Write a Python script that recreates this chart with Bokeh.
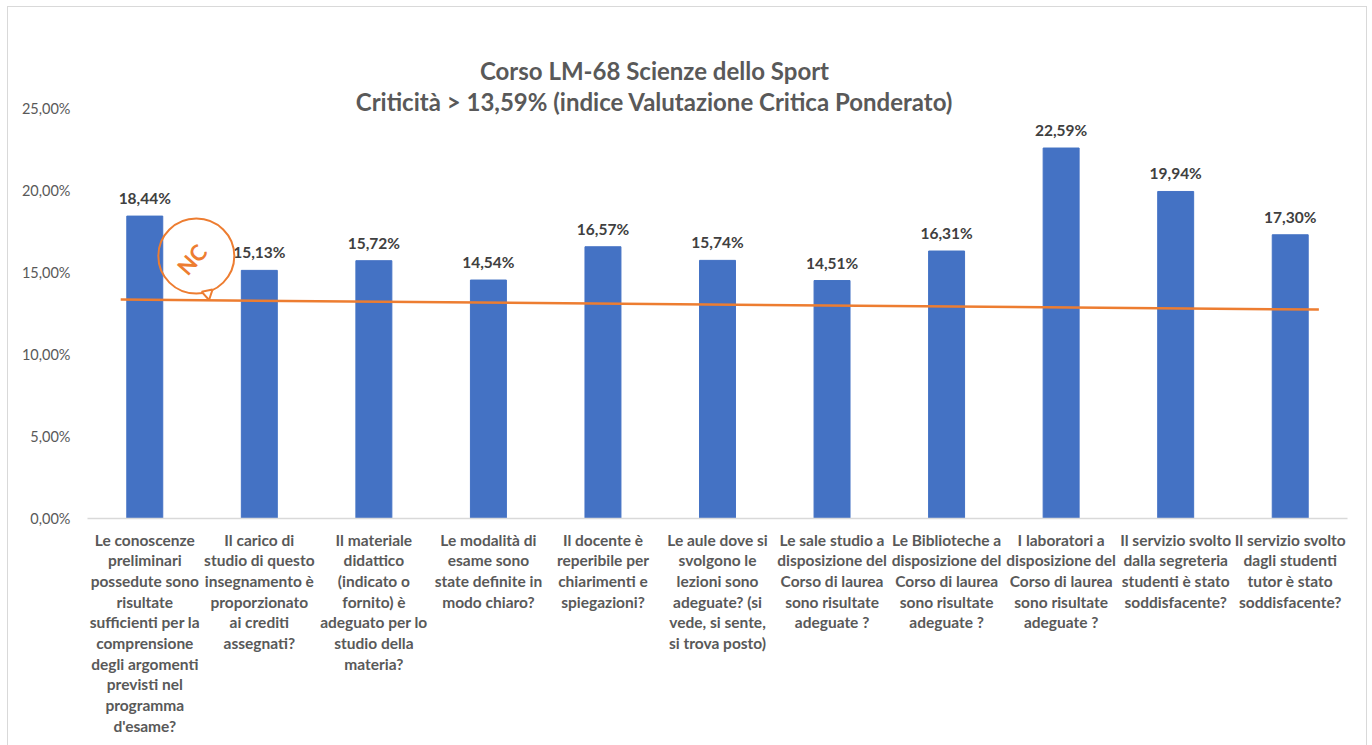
from bokeh.plotting import figure
from bokeh.models import FactorRange, Range1d, Label, FixedTicker
from bokeh.core.properties import value
from bokeh.embed import file_html
from bokeh.resources import INLINE

categories = [
    "Le conoscenze\npreliminari\npossedute sono\nrisultate\nsufficienti per la\ncomprensione\ndegli argomenti\nprevisti nel\nprogramma\nd'esame?",
    "Il carico di\nstudio di questo\ninsegnamento è\nproporzionato\nai crediti\nassegnati?",
    "Il materiale\ndidattico\n(indicato o\nfornito) è\nadeguato per lo\nstudio della\nmateria?",
    "Le modalità di\nesame sono\nstate definite in\nmodo chiaro?",
    "Il docente è\nreperibile per\nchiarimenti e\nspiegazioni?",
    "Le aule dove si\nsvolgono le\nlezioni sono\nadeguate? (si\nvede, si sente,\nsi trova posto)",
    "Le sale studio a\ndisposizione del\nCorso di laurea\nsono risultate\nadeguate ?",
    "Le Biblioteche a\ndisposizione del\nCorso di laurea\nsono risultate\nadeguate ?",
    "I laboratori a\ndisposizione del\nCorso di laurea\nsono risultate\nadeguate ?",
    "Il servizio svolto\ndalla segreteria\nstudenti è stato\nsoddisfacente?",
    "Il servizio svolto\ndagli studenti\ntutor è stato\nsoddisfacente?",
]
criticita = [18.44, 15.13, 15.72, 14.54, 16.57, 15.74, 14.51, 16.31, 22.59, 19.94, 17.30]
y_ticks = [0, 5, 10, 15, 20, 25]
y_tick_labels = ["0,00%", "5,00%", "10,00%", "15,00%", "20,00%", "25,00%"]
title_lines = ["Corso LM-68 Scienze dello Sport",
               "Criticità > 13,59% (indice Valutazione Critica Ponderato)"]
# hand-drawn threshold line (start / end, in percent)
threshold_y = [13.35, 12.74]

BLUE = "#4472C4"
ORANGE = "#ED7D31"
GRAY = "#595959"
FONT = "Lato"

value_labels = [("%.2f" % v).replace(".", ",") + "%" for v in criticita]

p = figure(width=1360, height=745, output_backend="svg", toolbar_location=None,
           x_range=FactorRange(factors=categories), y_range=Range1d(0, 30),
           min_border_left=79, min_border_right=21, min_border_top=19,
           min_border_bottom=234)
p.margin = (6, 0, 0, 7)
p.styles = {"border": "1px solid #d9d9d9"}
p.outline_line_color = None
p.xgrid.grid_line_color = None
p.ygrid.grid_line_color = None

p.vbar(x=categories, top=criticita, width=0.314, fill_color=BLUE, line_color=BLUE)
p.text(x=categories, y=criticita, text=value_labels, text_align="center",
       text_baseline="bottom", y_offset=-9, text_font=value(FONT),
       text_font_style="bold", text_font_size="15.5px", text_color="#404040")

n = len(categories)
p.line(x=[0.29, n - 0.25], y=threshold_y, line_color=ORANGE, line_width=2.5)

# logo bubble
p.ellipse(x=[0.95], y=[16.0], width=76, height=75, width_units="screen",
          height_units="screen", fill_alpha=0, line_color=ORANGE, line_width=2)
p.scatter(x=[1.05], y=[13.7], marker="triangle", size=11, angle=3.35,
          fill_color="white", line_color=ORANGE, line_width=2)
p.text(x=[0.91], y=[15.8], text=["NC"], angle=0.85, text_align="center",
       text_baseline="middle", text_font=value(FONT), text_font_style="bold",
       text_font_size="22px", text_color=ORANGE)

# y axis
ya = p.yaxis[0]
ya.ticker = FixedTicker(ticks=y_ticks)
ya.major_label_overrides = {t: l for t, l in zip(y_ticks, y_tick_labels)}
ya.axis_line_color = None
ya.major_tick_line_color = None
ya.minor_tick_line_color = None
ya.major_label_text_font = FONT
ya.major_label_text_font_size = "14.5px"
ya.major_label_text_color = GRAY
ya.major_label_standoff = 11

# x axis
xa = p.xaxis[0]
xa.axis_line_color = "#d9d9d9"
xa.axis_line_width = 1.5
xa.major_tick_line_color = None
xa.major_label_text_font = FONT
xa.major_label_text_font_style = "bold"
xa.major_label_text_font_size = "15.5px"
xa.major_label_text_line_height = 1.15
xa.major_label_text_color = GRAY
xa.major_label_standoff = 6

for t, yv in zip(title_lines, [27.3, 25.4]):
    p.add_layout(Label(x=4.95, y=yv, text=t, text_align="center",
                       text_baseline="middle", text_font=FONT,
                       text_font_style="bold", text_font_size="24px",
                       text_color=GRAY))

open("out.html", "w").write(file_html(p, INLINE))
